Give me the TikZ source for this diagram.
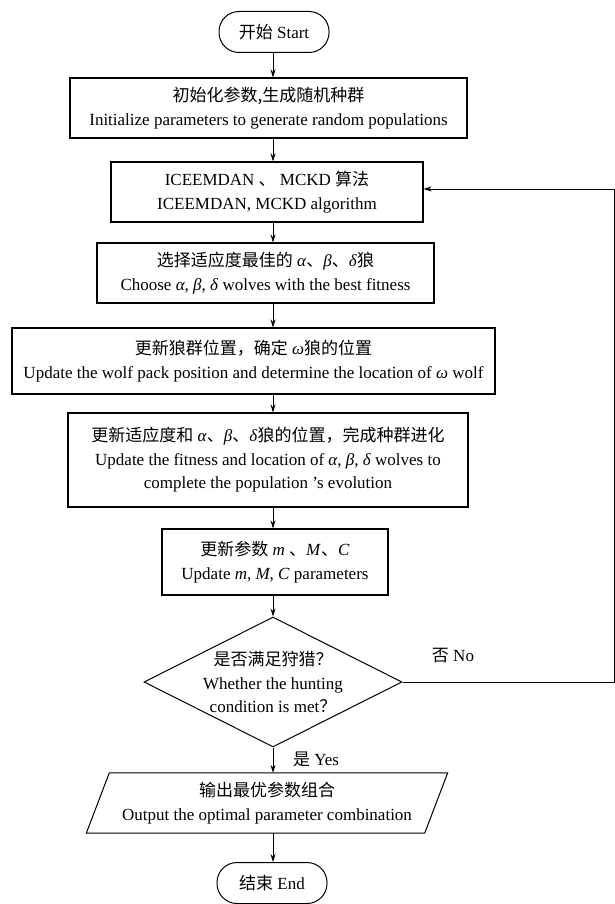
\documentclass[tikz,border=0pt]{standalone}
\usepackage{fontspec}
\setmainfont{Liberation Serif}
\newfontfamily\cjk{Noto Sans CJK SC}
\usetikzlibrary{shapes.geometric,arrows.meta}
\newcommand\gk[1]{\textit{#1}}
\begin{document}
\begin{tikzpicture}[x=1pt,y=-1pt,
  txt/.style={inner sep=0pt,align=center,font=\fontsize{17}{23.5}\selectfont},
  box/.style={txt,draw,line width=1.1pt,rectangle},
  term/.style={txt,draw,line width=1pt,rectangle,rounded corners=20pt,minimum width=110pt,minimum height=41pt},
  dia/.style={draw,line width=1pt,diamond,inner sep=0pt,minimum width=258pt,minimum height=130pt},
  arr/.style={-{Stealth[length=8pt,width=5pt]},line width=0.8pt},
  ln/.style={line width=0.8pt}]
\useasboundingbox (0,0) rectangle (615,904);
\coordinate (spine) at (273,0);
\coordinate (loop) at (614,189);

\node[term] (s) at (274,32) {{\cjk 开始} Start};
\node[box,minimum width=397pt,minimum height=60pt] (b1) at (268.5,108)
  {{\cjk 初始化参数,生成随机种群}\\Initialize parameters to generate random populations};
\node[box,minimum width=312pt,minimum height=60pt] (b2) at (267,192)
  {ICEEMDAN {\cjk 、} MCKD {\cjk 算法}\\ICEEMDAN, MCKD algorithm};
\node[box,minimum width=337pt,minimum height=60pt] (b3) at (265.5,273)
  {{\cjk 选择适应度最佳的} \gk{α}{\cjk 、}\gk{β}{\cjk 、}\gk{δ}{\cjk 狼}\\Choose \gk{α}, \gk{β}, \gk{δ} wolves with the best fitness};
\node[box,minimum width=483pt,minimum height=66pt] (b4) at (253.5,361)
  {{\cjk 更新狼群位置，确定} \gk{ω}{\cjk 狼的位置}\\Update the wolf pack position and determine the location of \gk{ω} wolf};
\node[box,minimum width=400pt,minimum height=94pt] (b5) at (268,460)
  {{\cjk 更新适应度和} \gk{α}{\cjk 、}\gk{β}{\cjk 、}\gk{δ}{\cjk 狼的位置，完成种群进化}\\Update the fitness and location of \gk{α}, \gk{β}, \gk{δ} wolves to\\complete the population ’s evolution};
\node[box,minimum width=226pt,minimum height=66pt] (b6) at (275,562)
  {{\cjk 更新参数} \gk{m} {\cjk 、}\gk{M}{\cjk 、}\gk{C}\\Update \gk{m}, \gk{M}, \gk{C} parameters};
\node[dia] (d) at (273,682) {};
\node[txt] (dt) at (d.center) {{\cjk 是否满足狩猎？}\\Whether the hunting\\condition is met{\cjk ？}};
\node[txt,minimum width=315pt,minimum height=60pt] (p) at (267,803)
  {{\cjk 输出最优参数组合}\\Output the optimal parameter combination};
\draw[line width=1pt] (p.north west) -- ([xshift=23pt]p.north east) -- (p.south east) -- ([xshift=-23pt]p.south west) -- cycle;
\node[term] (e) at (272,883) {{\cjk 结束} End};

\node[txt] (no) at (453,656) {{\cjk 否} No};
\node[txt] (yes) at (316,759) {{\cjk 是} Yes};

\draw[arr] (s.south -| spine) -- (b1.north -| spine);
\draw[arr] (b1.south -| spine) -- (b2.north -| spine);
\draw[arr] (b2.south -| spine) -- (b3.north -| spine);
\draw[arr] (b3.south -| spine) -- (b4.north -| spine);
\draw[arr] (b4.south -| spine) -- (b5.north -| spine);
\draw[arr] (b5.south -| spine) -- (b6.north -| spine);
\draw[arr] (b6.south -| spine) -- (d.north);
\draw[arr] (d.south) -- (p.north -| spine);
\draw[arr] (p.south -| spine) -- (e.north -| spine);
\draw[arr] (d.east) -- (d.east -| loop) -- (loop) -- (loop -| b2.east);
\end{tikzpicture}
\end{document}
